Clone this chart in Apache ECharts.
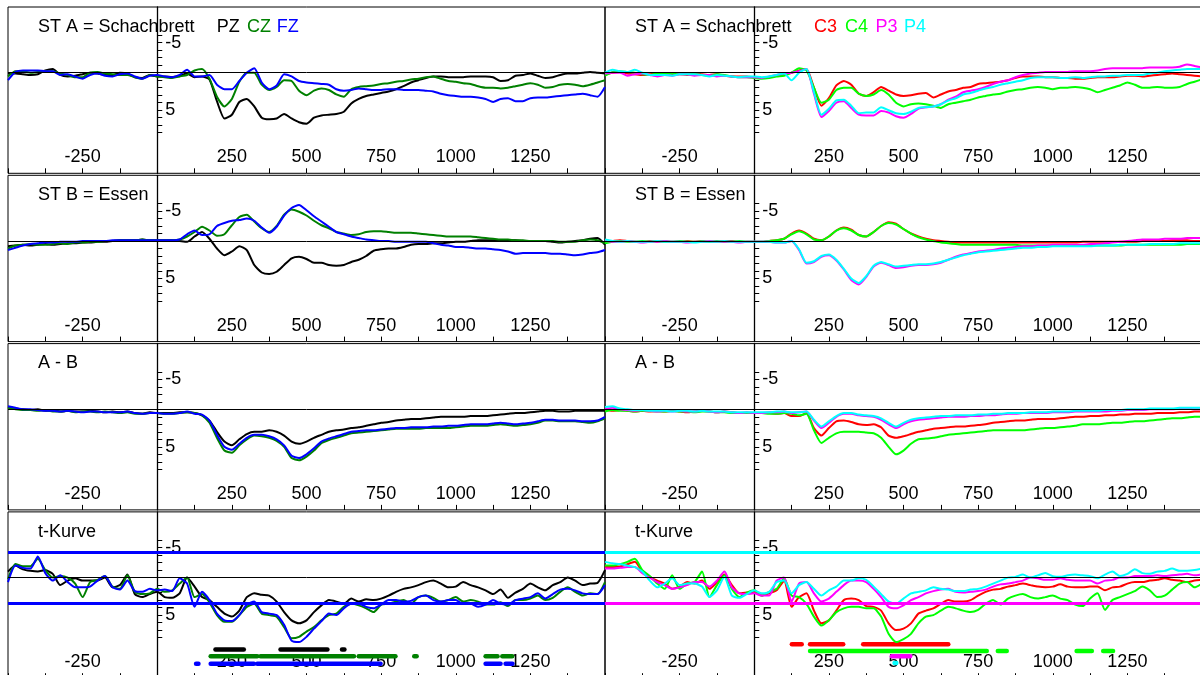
<!DOCTYPE html>
<html>
<head>
<meta charset="utf-8">
<script src="https://cdn.jsdelivr.net/npm/echarts@6/dist/echarts.min.js"></script>
<style>
  html, body { margin: 0; padding: 0; background: #fff; }
  #chart { width: 1200px; height: 675px; }
</style>
</head>
<body>
<div id="chart"></div>
<script>
// sample times of every curve: -500 .. 1500 ms, 25 ms apart
const times = Array.from({ length: 81 }, (_, i) => -500 + 25 * i);
const xLabels = [-250, 250, 500, 750, 1000, 1250];
const yTicks = [-5, -4, -3, -2, -1, 0, 1, 2, 3, 4, 5, 6, 7, 8];
const yLabels = [-5, 5];
const tCrit = 3.4;

// ST A = Schachbrett (uV)
const stA_PZ = [0.1,0.1,0.2,0.3,0.2,-0.3,-0.5,0.3,0.5,0.4,
  0.2,0.0,0.1,0.3,0.3,0.0,0.1,0.6,0.7,0.3,
  0.5,0.5,0.6,0.4,0.1,0.6,0.5,0.9,3.8,6.1,
  5.6,3.9,3.5,4.5,6.0,6.2,6.1,5.5,6.1,6.6,
  6.8,6.0,5.7,5.6,5.5,5.2,4.1,3.5,3.1,2.9,
  2.7,2.5,2.2,1.8,1.3,1.0,0.7,0.5,0.5,0.6,
  0.6,0.6,0.5,0.5,0.5,0.6,1.1,1.0,0.4,0.3,
  0.1,0.4,0.7,0.6,0.3,0.1,0.1,0.0,-0.1,0.0,
  0.1];
const stA_CZ = [0.5,-0.2,-0.2,0.0,-0.1,-0.2,-0.2,0.1,0.3,0.6,
  0.6,0.0,-0.1,0.1,0.2,0.3,0.3,0.6,0.8,0.3,
  0.5,0.6,0.7,0.5,0.3,-0.3,-0.5,0.8,3.2,4.5,
  3.5,1.2,0.0,0.0,1.6,2.3,1.9,1.0,1.1,2.4,
  3.0,2.4,2.1,2.3,2.9,3.2,2.2,1.9,1.8,1.7,
  1.5,1.4,1.2,1.1,0.9,0.8,0.6,0.5,0.8,1.1,
  1.2,1.4,1.5,1.8,2.0,2.0,2.1,2.0,1.8,1.6,
  1.4,1.6,2.0,1.9,1.6,1.5,1.6,1.8,1.6,1.3,
  1.0];
const stA_FZ = [1.0,-0.1,-0.3,-0.3,-0.3,-0.2,-0.2,0.3,0.2,0.5,
  0.8,0.3,0.1,0.4,0.5,0.2,0.1,0.5,0.8,0.4,
  0.3,0.5,0.6,0.3,-0.4,0.5,0.5,0.3,1.6,2.2,
  2.2,1.1,0.0,-0.6,1.3,2.2,1.7,0.2,0.5,1.1,
  1.3,1.4,1.5,1.6,2.2,2.4,2.3,2.1,2.2,2.3,
  2.3,2.2,2.2,2.3,2.3,2.3,2.4,2.5,2.8,3.0,
  3.1,3.2,3.2,3.3,3.5,3.9,3.5,3.4,3.8,3.8,
  3.4,3.3,3.3,3.2,3.1,3.0,2.9,2.8,3.0,3.2,
  1.9];
const stA_C3 = [0.2,0.0,-0.1,0.1,0.2,0.3,0.2,0.1,0.3,0.2,
  0.2,0.3,0.1,0.2,0.3,0.2,0.4,0.5,0.5,0.5,
  0.6,0.7,0.6,0.4,0.2,0.0,-0.3,-0.5,2.0,4.4,
  3.4,1.7,1.1,1.6,2.8,3.1,2.6,1.9,2.4,2.9,
  3.1,3.0,2.8,2.7,3.3,2.9,2.5,2.3,2.0,1.9,
  1.5,1.4,1.3,1.2,1.0,0.7,0.5,0.5,0.5,0.6,
  0.6,0.7,0.7,0.8,0.8,0.7,0.6,0.6,0.6,0.5,
  0.4,0.4,0.5,0.4,0.3,0.2,0.1,0.2,0.3,0.4,
  0.5];
const stA_C4 = [0.4,-0.1,-0.2,-0.1,0.0,0.2,0.3,0.1,0.1,0.2,
  0.1,0.2,0.2,0.3,0.4,0.2,0.3,0.5,0.6,0.6,
  0.7,0.8,0.7,0.5,0.4,0.0,-0.6,-0.3,2.0,4.0,
  3.6,2.3,2.0,2.0,2.8,3.1,2.9,2.3,2.9,4.0,
  4.5,4.2,4.1,4.2,4.4,4.7,4.2,4.0,3.8,3.6,
  3.3,3.1,2.9,2.8,2.5,2.3,2.2,2.0,1.9,2.0,
  2.2,2.0,2.0,1.9,2.0,2.2,2.6,2.3,2.0,1.7,
  1.3,1.6,2.0,2.0,1.9,2.0,2.0,1.9,1.5,1.2,
  0.9];
const stA_P3 = [0.1,0.0,0.0,0.4,0.2,0.1,0.3,0.5,0.3,0.4,
  0.2,0.2,0.4,0.3,0.3,0.5,0.4,0.5,0.6,0.6,
  0.6,0.7,0.5,0.3,0.1,0.0,-0.2,-0.5,2.8,5.9,
  5.1,4.0,3.8,4.7,5.6,5.7,5.7,5.1,5.3,5.8,
  6.0,5.5,4.8,4.6,4.5,4.2,3.6,3.2,2.6,2.4,
  2.2,1.9,1.5,1.2,1.0,0.6,0.3,0.1,0.0,-0.1,
  -0.1,-0.1,-0.1,-0.2,-0.2,-0.2,-0.3,-0.5,-0.6,-0.6,
  -0.6,-0.6,-0.6,-0.7,-0.7,-0.7,-0.7,-0.8,-1.1,-0.9,
  -0.7];
const stA_P4 = [0.0,-0.4,-0.2,-0.1,-0.4,0.0,0.3,0.3,0.3,0.4,
  0.2,0.2,0.2,0.3,0.5,0.3,0.4,0.5,0.6,0.5,
  0.5,0.6,0.5,0.3,0.1,1.0,0.0,-0.5,2.6,5.6,
  4.8,3.7,3.6,4.4,5.4,5.3,5.3,4.6,5.0,5.4,
  5.5,5.2,4.7,4.6,4.5,4.2,3.7,3.4,2.9,2.7,
  2.4,2.1,1.9,1.6,1.4,1.2,1.0,0.7,0.6,0.6,
  0.6,0.7,0.7,0.6,0.7,0.6,0.5,0.5,0.4,0.4,
  0.3,0.3,0.3,0.1,0.0,-0.2,-0.3,-0.4,-0.5,-0.5,
  -0.5];

// ST B = Essen
const stB_PZ = [0.7,0.6,0.5,0.6,0.5,0.4,0.5,0.4,0.3,0.3,
  0.2,0.2,0.1,0.1,0.0,-0.1,-0.1,-0.1,-0.2,-0.1,
  -0.1,-0.1,-0.1,0.0,0.1,-0.6,-1.2,-0.3,1.0,1.9,
  1.4,0.7,1.2,3.2,4.2,4.4,4.1,3.2,2.3,2.1,
  2.4,2.9,2.9,3.2,3.3,3.2,2.8,2.5,2.0,1.3,
  1.1,1.0,1.0,0.8,0.5,0.4,0.4,0.3,0.3,0.2,
  0.1,0.1,0.0,-0.1,-0.1,-0.1,-0.1,-0.1,-0.1,0.0,
  0.0,0.0,0.0,0.1,0.2,0.1,0.0,-0.1,-0.3,-0.4,
  0.5];
const stB_CZ = [1.0,0.6,0.5,0.4,0.5,0.5,0.4,0.3,0.4,0.2,
  0.2,0.1,0.1,0.0,0.0,-0.1,-0.1,-0.1,-0.2,-0.1,
  -0.1,-0.1,-0.1,-0.2,-0.6,-1.2,-1.9,-1.4,-0.7,-0.9,
  -2.1,-3.2,-3.5,-2.6,-1.7,-1.2,-2.0,-3.5,-4.2,-3.9,
  -3.4,-2.7,-2.1,-1.7,-1.2,-1.0,-0.8,-0.9,-1.2,-1.3,
  -1.3,-1.2,-1.1,-1.1,-1.1,-1.0,-0.9,-0.8,-0.7,-0.6,
  -0.6,-0.6,-0.6,-0.5,-0.4,-0.3,-0.2,-0.2,-0.1,-0.1,
  0.0,0.0,0.0,0.0,0.1,0.1,0.1,-0.1,-0.2,-0.1,
  0.3];
const stB_FZ = [1.2,0.9,0.6,0.4,0.3,0.2,0.2,0.1,0.1,0.1,
  0.0,0.0,0.0,0.0,-0.1,-0.1,-0.1,-0.1,-0.1,-0.1,
  -0.1,-0.1,-0.1,-0.2,-0.9,-1.4,-0.8,-0.9,-2.0,-2.4,
  -2.7,-2.8,-3.0,-2.7,-1.8,-1.1,-1.9,-3.4,-4.4,-4.8,
  -4.1,-3.3,-2.6,-1.9,-1.2,-0.9,-0.6,-0.4,-0.2,-0.1,
  0.0,0.0,0.1,0.1,0.1,0.1,0.1,0.3,0.5,0.6,
  0.8,0.8,0.9,1.0,1.0,1.1,1.2,1.4,1.7,1.6,
  1.6,1.6,1.6,1.7,1.7,1.8,1.9,1.8,1.6,1.5,
  1.2];
const stB_C3 = [0.1,0.0,-0.1,0.0,0.1,0.1,0.0,0.1,0.0,0.1,
  0.1,0.0,0.1,0.0,0.1,0.1,0.0,0.0,0.1,0.1,
  0.1,0.1,0.0,-0.1,-0.3,-1.0,-1.4,-1.0,-0.3,-0.1,
  -0.6,-1.4,-1.8,-1.5,-0.8,-0.6,-1.2,-2.0,-2.5,-2.3,
  -1.6,-1.0,-0.6,-0.3,-0.1,0.0,0.1,0.2,0.2,0.2,
  0.2,0.2,0.2,0.2,0.2,0.2,0.2,0.2,0.2,0.2,
  0.2,0.2,0.2,0.2,0.1,0.1,0.1,0.1,0.1,0.1,
  0.1,0.1,0.0,0.0,0.0,0.0,-0.1,-0.1,-0.1,0.0,
  0.0];
const stB_C4 = [0.3,0.1,0.0,0.1,0.1,0.0,0.1,0.0,0.1,0.1,
  0.0,0.1,0.1,0.0,0.1,0.0,0.1,0.1,0.0,0.1,
  0.1,0.1,0.0,-0.1,-0.3,-0.9,-1.3,-0.9,-0.2,-0.1,
  -0.6,-1.4,-1.7,-1.4,-0.8,-0.6,-1.2,-2.0,-2.4,-2.2,
  -1.6,-1.0,-0.5,-0.2,0.0,0.2,0.3,0.4,0.5,0.5,
  0.5,0.5,0.5,0.5,0.5,0.5,0.6,0.6,0.6,0.6,
  0.6,0.6,0.6,0.6,0.6,0.6,0.6,0.6,0.6,0.6,
  0.5,0.5,0.5,0.5,0.5,0.5,0.5,0.5,0.4,0.4,
  0.4];
const stB_P3 = [0.0,0.1,0.1,0.0,0.1,0.2,0.1,0.1,0.0,0.1,
  0.1,0.2,0.1,0.1,0.0,0.1,0.1,0.1,0.2,0.1,
  0.1,0.1,0.1,0.2,0.2,0.0,1.2,3.0,2.8,2.1,
  1.9,2.6,3.8,5.2,5.8,4.8,3.4,2.9,3.2,3.6,
  3.5,3.3,3.2,3.2,3.1,2.9,2.5,2.1,1.8,1.6,
  1.4,1.3,1.2,1.0,0.9,0.8,0.7,0.7,0.6,0.6,
  0.5,0.5,0.5,0.5,0.5,0.4,0.4,0.3,0.2,0.1,
  0.0,-0.1,-0.2,-0.2,-0.2,-0.3,-0.3,-0.3,-0.4,-0.4,
  -0.4];
const stB_P4 = [-0.2,0.0,0.1,0.0,0.1,0.1,0.1,0.0,0.1,0.1,
  0.1,0.1,0.2,0.1,0.1,0.1,0.0,0.1,0.1,0.1,
  0.1,0.1,0.1,0.2,0.2,0.0,1.1,2.9,2.7,2.0,
  1.8,2.5,3.7,5.0,5.6,4.7,3.3,2.8,3.1,3.4,
  3.3,3.2,3.1,3.1,3.0,2.8,2.5,2.2,1.9,1.7,
  1.5,1.4,1.3,1.2,1.1,1.0,0.9,0.9,0.8,0.8,
  0.7,0.7,0.7,0.7,0.7,0.7,0.6,0.6,0.6,0.5,
  0.5,0.5,0.5,0.4,0.4,0.4,0.4,0.3,0.3,0.3,
  0.3];

// A - B
const AB_PZ = [-0.3,-0.1,0.0,0.1,0.0,0.2,0.1,0.3,0.2,0.3,
  0.3,0.2,0.3,0.4,0.3,0.4,0.3,0.5,0.6,0.4,
  0.5,0.5,0.5,0.4,0.4,0.5,0.8,1.5,3.0,4.3,
  4.8,4.0,3.3,3.0,3.0,2.8,3.0,3.5,4.3,4.6,
  4.3,3.8,3.4,3.0,2.8,2.7,2.5,2.4,2.2,2.0,
  1.8,1.7,1.5,1.4,1.3,1.3,1.2,1.1,1.0,1.0,
  1.0,1.0,0.9,0.9,0.9,0.8,0.7,0.6,0.5,0.5,
  0.4,0.3,0.2,0.2,0.3,0.3,0.2,0.2,0.2,0.2,
  0.2];
const AB_CZ = [-0.2,0.0,0.1,0.1,0.2,0.1,0.3,0.3,0.2,0.4,
  0.3,0.3,0.4,0.3,0.4,0.5,0.4,0.6,0.6,0.5,
  0.5,0.6,0.6,0.5,0.4,0.5,0.8,1.8,3.8,5.5,
  5.8,4.8,4.0,3.5,3.6,3.8,4.2,5.0,6.5,6.8,
  6.3,5.5,4.5,4.1,3.8,3.5,3.2,3.1,3.0,2.9,
  2.8,2.7,2.6,2.6,2.6,2.6,2.5,2.5,2.5,2.5,
  2.4,2.3,2.2,2.2,2.2,2.1,2.0,2.1,2.2,2.1,
  2.0,1.8,1.5,1.5,1.6,1.6,1.6,1.7,1.8,1.6,
  1.2];
const AB_FZ = [-0.4,-0.2,0.0,0.0,0.1,0.2,0.2,0.3,0.2,0.3,
  0.4,0.3,0.3,0.4,0.4,0.4,0.3,0.5,0.6,0.5,
  0.5,0.6,0.6,0.5,0.3,0.6,0.7,1.5,3.4,5.0,
  5.4,4.6,3.8,3.4,3.4,3.6,4.0,4.8,6.2,6.5,
  6.0,5.2,4.3,3.9,3.6,3.3,3.0,2.9,2.8,2.8,
  2.7,2.6,2.5,2.5,2.4,2.4,2.4,2.3,2.3,2.2,
  2.2,2.1,2.0,2.0,2.0,1.9,1.8,1.9,2.0,1.9,
  1.8,1.6,1.4,1.4,1.5,1.5,1.5,1.6,1.6,1.5,
  1.0];
const AB_C3 = [0.1,0.2,0.1,0.2,0.3,0.2,0.3,0.2,0.3,0.2,
  0.3,0.4,0.3,0.2,0.3,0.4,0.3,0.4,0.5,0.5,
  0.5,0.5,0.5,0.6,0.5,0.9,0.9,0.5,2.5,3.5,
  2.5,1.6,1.5,1.7,2.0,2.1,2.0,2.4,3.5,3.8,
  3.6,3.3,3.0,2.8,2.6,2.5,2.4,2.3,2.3,2.2,
  2.1,2.0,1.8,1.7,1.6,1.5,1.5,1.4,1.3,1.3,
  1.3,1.2,1.1,1.0,1.0,0.9,0.9,0.8,0.8,0.7,
  0.7,0.6,0.6,0.6,0.5,0.5,0.5,0.4,0.4,0.3,
  0.3];
const AB_C4 = [0.3,0.1,0.2,0.2,0.3,0.2,0.2,0.3,0.3,0.2,
  0.3,0.3,0.4,0.3,0.3,0.4,0.4,0.5,0.5,0.5,
  0.5,0.5,0.6,0.6,0.5,0.6,0.8,0.6,2.8,4.5,
  3.8,3.2,3.0,3.0,3.0,3.1,3.2,3.8,5.0,6.0,
  5.5,4.6,4.0,3.9,3.8,3.6,3.4,3.3,3.2,3.1,
  3.0,2.9,2.8,2.8,2.8,2.8,2.8,2.7,2.6,2.5,
  2.5,2.4,2.3,2.2,2.0,2.0,2.0,1.9,1.8,1.8,
  1.7,1.6,1.6,1.5,1.4,1.3,1.2,1.2,1.1,1.0,
  1.0];
const AB_P3 = [0.0,-0.2,0.0,0.1,0.2,0.1,0.2,0.3,0.2,0.3,
  0.2,0.3,0.3,0.2,0.3,0.4,0.3,0.4,0.5,0.4,
  0.5,0.5,0.4,0.4,0.3,0.5,0.4,0.3,1.5,2.5,
  1.8,1.0,0.6,0.6,0.8,0.9,1.0,1.4,2.0,2.5,
  2.0,1.6,1.4,1.3,1.2,1.1,1.0,1.0,1.0,0.9,
  0.9,0.8,0.8,0.7,0.6,0.6,0.5,0.5,0.5,0.5,
  0.4,0.4,0.4,0.3,0.3,0.3,0.3,0.3,0.2,0.2,
  0.1,0.1,0.1,0.0,0.0,0.0,0.0,-0.1,-0.1,0.0,
  0.0];
const AB_P4 = [-0.3,-0.4,-0.1,0.0,0.1,0.1,0.2,0.2,0.2,0.3,
  0.2,0.2,0.3,0.2,0.3,0.3,0.3,0.4,0.4,0.4,
  0.4,0.4,0.4,0.3,0.3,0.4,0.4,0.3,1.4,2.3,
  1.6,0.9,0.5,0.5,0.7,0.8,0.9,1.2,1.8,2.3,
  1.8,1.4,1.2,1.1,1.0,0.9,0.9,0.8,0.8,0.8,
  0.7,0.7,0.6,0.6,0.5,0.5,0.5,0.4,0.4,0.4,
  0.3,0.3,0.3,0.2,0.2,0.2,0.2,0.1,0.1,0.1,
  0.0,0.0,0.0,-0.1,-0.1,-0.1,-0.1,-0.2,-0.2,-0.2,
  -0.2];

// t-Kurve
const tK_PZ = [-0.8,-1.6,-1.1,-0.9,-0.8,-1.0,-0.5,1.0,0.4,0.1,
  0.4,0.4,0.4,0.0,1.3,1.0,-0.4,2.2,2.6,2.2,
  1.9,2.6,2.7,2.1,0.0,1.2,2.6,3.0,3.9,4.8,
  5.2,4.4,2.6,2.1,2.3,2.4,3.2,4.6,5.7,6.1,
  5.7,4.6,3.7,3.0,3.2,3.5,2.8,3.2,2.9,3.0,
  2.8,2.4,1.9,1.5,1.3,1.0,0.6,0.4,0.8,1.3,
  1.2,0.6,1.0,1.3,1.7,2.2,1.6,2.7,2.0,1.5,
  0.8,1.3,1.7,1.0,0.6,0.0,0.4,1.0,0.8,0.7,
  -1.0];
const tK_CZ = [0.2,-1.8,-1.5,-1.5,-2.5,-1.0,0.0,-0.2,0.0,0.8,
  2.6,0.6,0.3,-0.2,1.2,1.5,-0.3,1.9,2.2,2.1,
  1.5,1.9,1.7,0.8,0.0,2.6,2.2,3.3,5.0,5.9,
  5.9,5.0,3.9,3.5,4.8,5.0,5.2,6.6,8.1,7.9,
  7.2,6.6,5.7,5.0,4.8,3.9,3.5,3.7,4.1,4.6,
  3.6,3.5,3.2,3.0,3.5,2.6,2.4,2.7,3.2,3.0,
  2.6,3.2,3.0,3.2,3.6,3.6,3.3,3.8,3.0,3.0,
  2.8,2.4,3.0,2.7,1.9,1.3,1.9,2.4,2.1,2.2,
  0.6];
const tK_FZ = [0.6,-1.6,-1.3,-1.2,-2.8,-0.6,0.4,-0.3,0.6,1.3,
  1.3,1.2,0.4,-0.2,1.3,1.6,0.4,1.8,1.9,1.5,
  1.7,1.6,1.8,0.1,0.8,3.9,1.9,3.0,4.8,5.7,
  5.8,5.0,3.6,3.2,4.6,4.8,5.0,6.3,8.4,8.6,
  7.9,6.8,5.8,4.8,5.0,4.1,3.5,3.5,3.9,4.1,
  3.6,3.0,3.0,3.2,3.1,2.6,2.4,3.0,3.2,3.0,
  3.0,3.5,3.5,3.9,3.6,3.0,3.5,3.6,3.0,2.8,
  2.6,2.1,2.8,2.2,1.6,1.5,1.7,2.1,2.2,2.2,
  1.0];
const tK_C3 = [-1.4,-1.4,-1.5,-1.8,-2.1,-0.8,-0.1,0.4,0.8,1.5,
  1.2,0.6,0.8,0.4,1.5,0.6,-0.4,1.0,2.1,2.0,
  1.9,2.4,2.1,1.7,0.4,3.9,2.6,2.1,4.4,6.1,
  5.7,4.4,3.0,2.8,3.0,3.8,3.9,4.4,6.1,7.0,
  6.8,6.1,4.8,4.4,4.1,3.5,3.0,3.2,3.2,3.0,
  2.4,1.9,1.6,1.5,1.2,1.0,0.8,1.0,1.2,1.3,
  1.2,0.9,1.2,1.3,1.3,1.2,1.2,1.7,1.3,1.2,
  0.8,0.6,0.6,0.4,0.3,0.1,0.3,0.4,0.6,0.4,
  0.3];
const tK_C4 = [-1.6,-1.6,-1.8,-2.1,-2.5,-1.0,-0.2,0.8,1.5,-0.3,
  1.5,0.8,0.6,-0.8,2.6,1.0,-0.3,1.5,2.6,2.0,
  1.7,2.4,1.9,1.5,0.1,2.4,2.6,3.5,5.2,6.4,
  5.7,4.6,4.1,3.9,3.9,4.1,4.1,5.2,7.5,8.6,
  8.2,7.5,6.1,5.2,5.0,4.4,3.9,4.1,4.4,4.6,
  4.3,3.5,3.0,3.6,2.8,2.4,2.2,2.6,2.8,2.6,
  2.4,2.8,3.0,3.6,3.8,2.8,2.1,4.3,3.0,2.6,
  2.2,1.8,1.2,1.7,2.6,2.4,1.6,0.8,0.6,1.3,
  0.8];
const tK_P3 = [-1.2,-1.2,-1.3,-1.4,-1.4,-0.6,0.0,0.6,1.0,1.5,
  1.3,1.0,0.6,0.6,1.2,0.4,-0.8,1.3,2.1,2.2,
  2.1,2.4,2.4,0.4,0.0,3.2,0.8,0.6,2.1,3.2,
  2.8,1.9,1.0,0.4,0.4,0.6,1.5,2.6,3.9,4.1,
  3.7,3.0,2.6,2.1,1.8,1.6,1.5,1.9,2.0,1.9,
  1.8,1.6,1.2,0.9,0.8,0.6,0.4,0.0,0.1,0.3,
  0.3,0.1,0.3,0.4,0.4,0.4,0.8,0.4,0.3,0.0,
  0.0,-0.2,-0.2,-0.2,-0.3,-0.2,-0.3,-0.4,-0.5,-0.3,
  -0.4];
const tK_P4 = [-2.1,-1.9,-1.8,-1.6,-1.4,-0.8,0.4,1.3,0.8,0.1,
  1.0,0.8,0.8,1.2,2.6,1.7,-0.1,2.4,2.7,2.2,
  1.7,2.1,1.9,0.6,0.4,2.1,1.0,0.6,1.5,2.4,
  1.7,1.2,0.4,0.4,0.1,0.3,1.2,2.2,3.2,3.5,
  2.8,2.1,1.9,1.7,1.3,1.5,1.6,1.8,1.8,1.6,
  1.5,1.2,0.8,0.4,0.0,-0.1,-0.4,0.0,-0.3,-0.6,
  -0.2,-0.1,-0.3,-0.4,-0.3,-0.2,0.1,-0.4,-0.8,-0.2,
  -0.5,-1.1,-0.6,-0.5,-0.8,-0.9,-1.2,-0.9,-0.9,-1.0,
  -1.2];

// significant intervals of the t-curve (ms from .. to)
const sigPZ = [[195, 290], [413, 570], [619, 627]];
const sigCZ = [[179, 335], [346, 659], [675, 798], [861, 869], [1100, 1140], [1156, 1189]];
const sigFZ = [[130, 138], [179, 324], [335, 748], [1100, 1150], [1167, 1190]];
const sigC3 = [[126, 159], [187, 298], [365, 650]];
const sigC4 = [[187, 779], [816, 846], [1080, 1131], [1169, 1202]];
const sigP3 = [[461, 522]];
const sigP4 = [[470, 476]];

const rowTitles = ['ST A = Schachbrett', 'ST B = Essen', 'A - B', 't-Kurve'];
const leftNames = ['PZ', 'CZ', 'FZ'];
const rightNames = ['C3', 'C4', 'P3', 'P4'];
const leftColors = ['#000000', '#008000', '#0000ff'];
const rightColors = ['#ff0000', '#00ff00', '#ff00ff', '#00ffff'];

const leftRows = [
  [stA_PZ, stA_CZ, stA_FZ],
  [stB_PZ, stB_CZ, stB_FZ],
  [AB_PZ, AB_CZ, AB_FZ],
  [tK_PZ, tK_CZ, tK_FZ],
];
const rightRows = [
  [stA_C3, stA_C4, stA_P3, stA_P4],
  [stB_C3, stB_C4, stB_P3, stB_P4],
  [AB_C3, AB_C4, AB_P3, AB_P4],
  [tK_C3, tK_C4, tK_P3, tK_P4],
];
const leftSig = [sigPZ, sigCZ, sigFZ];
const rightSig = [sigC3, sigC4, sigP3, sigP4];

// layout of the 4 x 2 panels (pixels)
const rowTop = [7, 175.3, 343.6, 511.9];
const rowH = 166.3;
const colLeft = [8, 605];
const colW = 597;
const zeroOffset = colW / 4;          // x position of t = 0 inside a panel
const fontFamily = '"Liberation Sans", Arial, sans-serif';
const legendX = [[208.7, 239, 268.7], [209, 240, 270.5, 299]];
const sigLevel = [[9.6, 10.5, 11.5], [8.9, 9.8, 10.5, 11.4]];

const columns = [
  { names: leftNames, colors: leftColors, rows: leftRows, sig: leftSig },
  { names: rightNames, colors: rightColors, rows: rightRows, sig: rightSig },
];

const grid = [], xAxis = [], yAxis = [], series = [], graphic = [];

for (let r = 0; r < 4; r++) {
  for (let c = 0; c < 2; c++) {
    const g = grid.length;
    const col = columns[c];
    const nCh = col.names.length;

    grid.push({
      left: colLeft[c], top: rowTop[r], width: colW, height: rowH,
      show: true, borderColor: '#000', borderWidth: 1,
      containLabel: false, outerBoundsMode: 'none',
    });

    // time axis: ticks every 125 ms, labels inside the panel
    xAxis.push({
      gridIndex: g, type: 'value', min: -500, max: 1500, interval: 125,
      axisLine: { show: false, onZero: false },
      axisTick: { show: true, inside: true, length: 5, lineStyle: { color: '#000', width: 1 } },
      axisLabel: {
        inside: true, margin: 7, customValues: xLabels,
        formatter: v => String(v),
        color: '#000', fontSize: 18, fontFamily: fontFamily,
      },
      splitLine: { show: false },
    });

    // amplitude axis sitting on t = 0, negative up
    yAxis.push({
      gridIndex: g, type: 'value', inverse: true, min: -8.76, max: 13.41,
      axisLine: { show: true, onZero: true, lineStyle: { color: '#000', width: 1.3 } },
      axisTick: { show: true, inside: true, length: 5, customValues: yTicks, lineStyle: { color: '#000' } },
      axisLabel: {
        inside: true, margin: zeroOffset + 8, customValues: yLabels,
        formatter: v => (v < 0 ? '{n|' + v + '}' : '{p|' + v + '}'),
        rich: {
          n: { fontSize: 18, fontFamily: fontFamily, color: '#000', padding: [15, 0, 0, 0] },
          p: { fontSize: 18, fontFamily: fontFamily, color: '#000' },
        },
      },
      splitLine: { show: false },
    });

    col.rows[r].forEach((arr, k) => {
      const color = col.colors[k];
      const lines = [];
      if (k === 0) lines.push({ yAxis: 0, lineStyle: { color: '#000', width: 1, type: 'solid' } });
      if (r === 3) {
        lines.push({ yAxis: -tCrit, lineStyle: { color: color, width: 3, type: 'solid' } });
        // lower line: the last channel of the right column leaves it to P3
        if (!(c === 1 && k === nCh - 1)) {
          lines.push({ yAxis: tCrit, lineStyle: { color: color, width: 3, type: 'solid' } });
        }
      }
      series.push({
        type: 'line', name: col.names[k], xAxisIndex: g, yAxisIndex: g,
        data: times.map((t, i) => [t, arr[i]]),
        showSymbol: false, symbol: 'none', smooth: 0.2,
        lineStyle: { color: color, width: 2 }, itemStyle: { color: color },
        silent: true, animation: false,
        markLine: lines.length ? {
          silent: true, symbol: 'none', animation: false,
          lineStyle: { type: 'solid' },
          label: { show: false }, data: lines,
        } : undefined,
      });
    });

    // significance bars below the t-curves
    if (r === 3) {
      col.sig.forEach((sig, k) => {
        const level = sigLevel[c][k];
        const color = col.colors[k];
        series.push({
          type: 'custom', xAxisIndex: g, yAxisIndex: g,
          data: sig, encode: { x: [0, 1] },
          silent: true, animation: false, z: 3,
          renderItem: (params, api) => {
            const a = api.coord([api.value(0), level]);
            const b = api.coord([api.value(1), level]);
            return {
              type: 'line',
              shape: { x1: a[0], y1: a[1], x2: b[0], y2: b[1] },
              style: { stroke: color, lineWidth: 4.5, lineCap: 'round' },
            };
          },
        });
      });
    }

    // panel title
    graphic.push({
      type: 'text', x: colLeft[c] + 30, y: rowTop[r] + 19.7, z: 10, silent: true,
      style: { text: rowTitles[r], fill: '#000', fontSize: 18, fontFamily: fontFamily, verticalAlign: 'middle' },
    });
    // channel names in the first row
    if (r === 0) {
      col.names.forEach((name, k) => {
        graphic.push({
          type: 'text', x: colLeft[c] + legendX[c][k], y: rowTop[r] + 19.7, z: 10, silent: true,
          style: { text: name, fill: col.colors[k], fontSize: 18, fontFamily: fontFamily, verticalAlign: 'middle' },
        });
      });
    }
  }
}

const myChart = echarts.init(document.getElementById('chart'), null, { renderer: 'canvas' });
myChart.setOption({
  animation: false,
  backgroundColor: '#fff',
  grid: grid,
  xAxis: xAxis,
  yAxis: yAxis,
  series: series,
  graphic: graphic,
});
</script>
</body>
</html>
